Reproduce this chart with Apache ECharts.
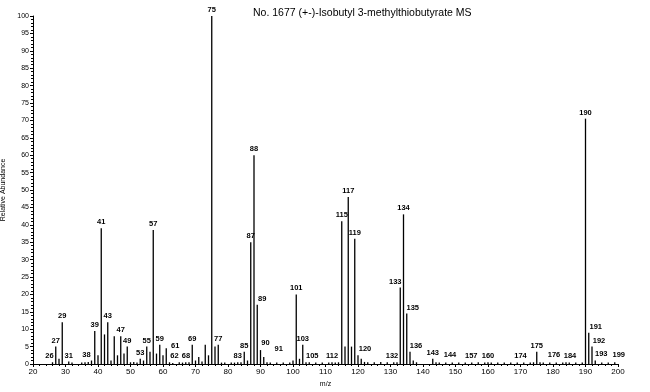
<!DOCTYPE html>
<html><head><meta charset="utf-8">
<script src="https://cdn.jsdelivr.net/npm/echarts@6/dist/echarts.min.js"></script>
<style>html,body{margin:0;padding:0;background:#fff}#c{width:650px;height:392px}</style>
</head><body><div id="c"></div>
<script>
var titleText = 'No. 1677 (+-)-Isobutyl 3-methylthiobutyrate MS';
var mz = [26,27,28,29,31,32,35,36,37,38,39,40,41,42,43,44,45,46,47,48,49,50,51,52,53,54,55,56,57,58,59,60,61,62,63,65,66,67,68,69,70,71,72,73,74,75,76,77,78,79,81,82,83,84,85,86,87,88,89,90,91,92,93,95,97,99,100,101,102,103,104,105,107,109,111,112,113,114,115,116,117,118,119,120,121,122,123,125,127,129,131,132,133,134,135,136,137,138,143,144,145,147,149,151,153,155,157,159,160,161,163,165,167,169,171,173,174,175,176,177,179,181,183,184,185,187,189,190,191,192,193,195,197,199];
var abundance = [0.5,5,1.5,12,0.7,0.4,0.4,0.5,0.6,1,9.5,2.5,39,8.5,12,1,8,2.5,8,3,5,0.5,0.6,0.4,1.5,1,5,3.5,38.5,3,5.5,2.5,4.5,0.5,0.3,0.5,0.4,0.5,0.5,5.5,1,2,0.7,5.5,2.5,100,5,5.5,0.4,0.4,0.4,0.4,0.5,0.5,3.5,1,35,60,17,4,2,0.5,0.4,0.4,0.4,0.4,1,20,1.5,5.5,0.5,0.5,0.4,0.4,0.4,0.5,0.4,0.5,41,5,48,5,36,2.5,1.5,0.6,0.5,0.5,0.6,0.5,0.5,0.5,22,43,14.5,3.5,1,0.5,1.5,0.5,0.4,0.4,0.4,0.4,0.4,0.4,0.5,0.4,0.5,0.4,0.4,0.4,0.4,0.4,0.4,0.4,0.5,3.5,0.5,0.4,0.4,0.4,0.4,0.5,0.4,0.4,0.4,70.5,9,5,1,0.4,0.4,0.5];
var labeled = [26,27,29,31,38,39,41,43,47,49,53,55,57,59,61,62,68,69,75,77,83,85,87,88,89,90,91,101,103,105,112,115,117,119,120,132,133,134,135,136,143,144,157,160,174,175,176,184,190,191,192,193,199];
var yTicks = [0,5,10,15,20,25,30,35,40,45,50,55,60,65,70,75,80,85,90,95,100];
var xTicks = [20,30,40,50,60,70,80,90,100,110,120,130,140,150,160,170,180,190,200];

var labelShift = {26:[-3,0],38:[-5,0],61:[9,4],62:[5,0],68:[-3,0],89:[5,0],90:[5,-1],91:[15,-2],105:[3,0],120:[7,0],132:[-5,0],133:[-5,0],135:[6,0],136:[6,0],144:[14,-1],157:[-7,0],174:[-13,0],176:[14,-1],184:[4,0],191:[7,0],192:[7,0],193:[6,-1],199:[4,-1]};

var data = mz.map(function(m,i){
  var item = {value:[m, abundance[i]]};
  if (labeled.indexOf(m) >= 0) {
    item.label = {show:true, offset: labelShift[m] || [0,0]};
  }
  return item;
});

var chart = echarts.init(document.getElementById('c'), null, {renderer:'canvas'});
chart.setOption({
  animation:false,
  backgroundColor:'#fff',
  title:{text:titleText, left:248, top:3, textStyle:{fontFamily:'Liberation Sans', fontSize:10.5, fontWeight:'normal', color:'#000'}},
  grid:{left:33, right:32, top:16, bottom:28, containLabel:false, outerBoundsMode:'none'},
  xAxis:{type:'value', min:20, max:200, interval:10, name:'m/z', nameLocation:'middle', nameGap:17,
    nameTextStyle:{fontFamily:'Liberation Sans', fontSize:7, color:'#000'},
    axisLine:{lineStyle:{color:'#000', width:1}}, axisTick:{length:3, lineStyle:{color:'#000'}},
    minorTick:{show:true, splitNumber:5, length:2, lineStyle:{color:'#000'}},
    axisLabel:{fontFamily:'Liberation Sans', fontSize:8, color:'#000', margin:4,
      formatter:function(v){return xTicks.indexOf(v)>=0? String(v):'';}},
    splitLine:{show:false}},
  yAxis:{type:'value', min:0, max:100, interval:5, name:'Relative Abundance', nameLocation:'middle', nameGap:20, nameRotate:90,
    nameTextStyle:{fontFamily:'Liberation Sans', fontSize:7, color:'#000'},
    axisLine:{show:true, lineStyle:{color:'#000', width:1}}, axisTick:{length:3, lineStyle:{color:'#000'}},
    minorTick:{show:true, splitNumber:5, length:2, lineStyle:{color:'#000'}},
    axisLabel:{fontFamily:'Liberation Sans', fontSize:7, color:'#000', margin:4,
      formatter:function(v){return yTicks.indexOf(v)>=0? String(v):'';}},
    splitLine:{show:false}},
  series:[{type:'bar', data:data, barWidth:1.3, itemStyle:{color:'#000'},
    label:{show:false, position:'top', distance:2, fontFamily:'Liberation Sans', fontWeight:'bold', fontSize:7.5, color:'#000',
      formatter:function(p){return String(p.value[0]);}}}]
});
</script></body></html>
